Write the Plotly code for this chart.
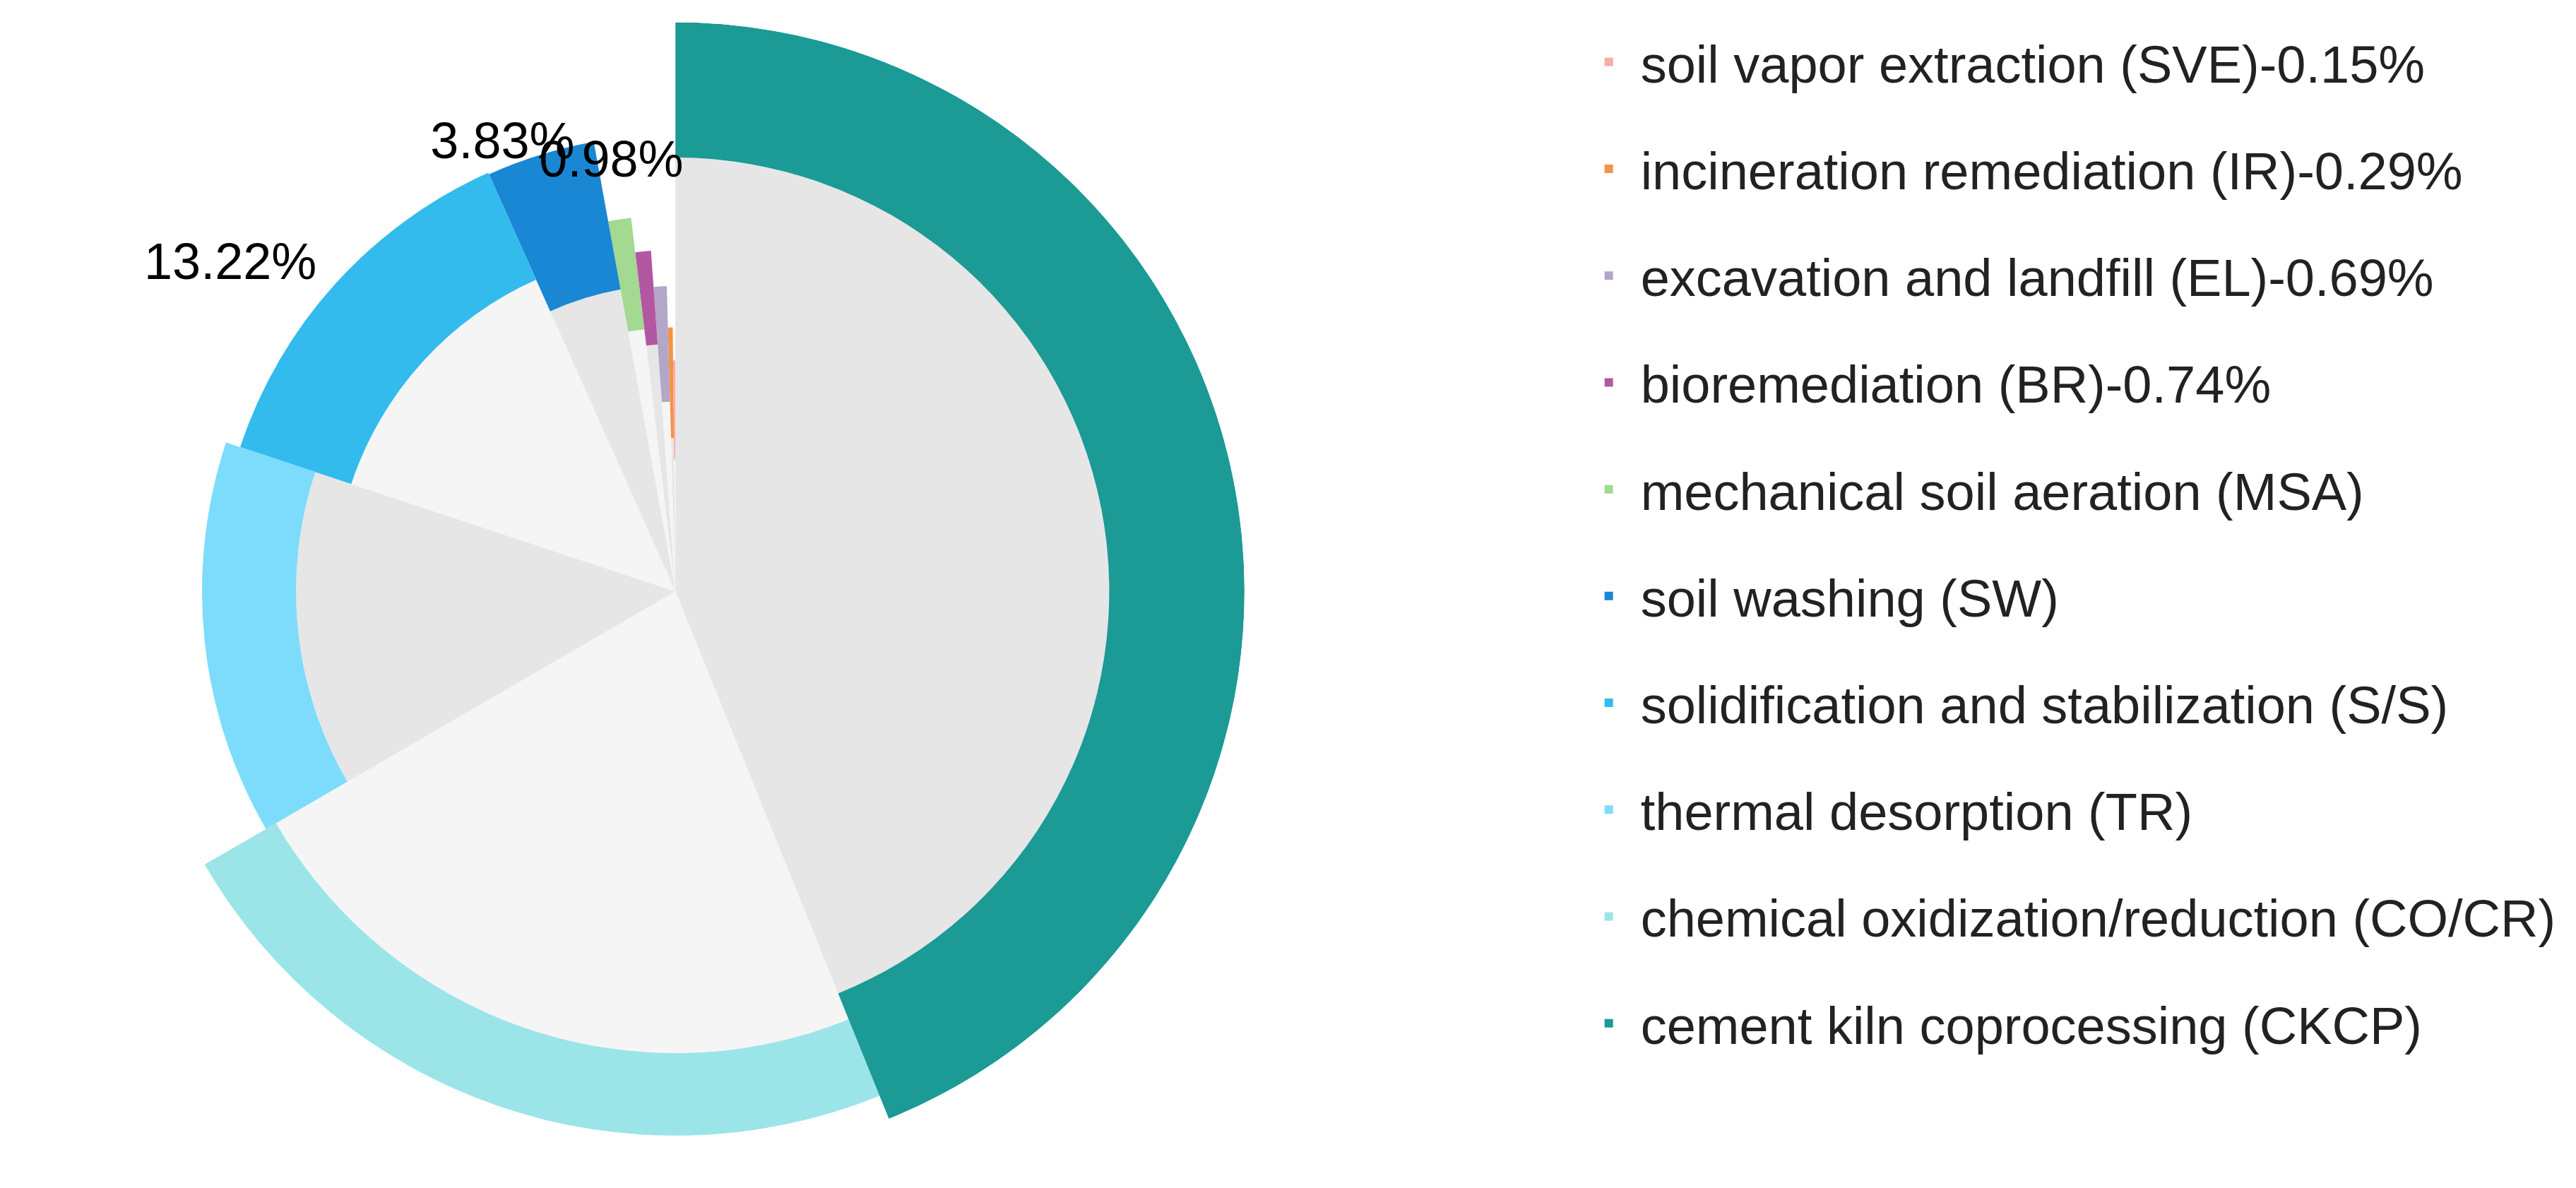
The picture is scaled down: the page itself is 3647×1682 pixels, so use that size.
import plotly.graph_objects as go
import numpy as np

names = ["cement kiln coprocessing (CKCP)", "chemical oxidization/reduction (CO/CR)",
         "thermal desorption (TR)", "solidification and stabilization (S/S)",
         "soil washing (SW)", "mechanical soil aeration (MSA)", "bioremediation (BR)-0.74%",
         "excavation and landfill (EL)-0.69%", "incineration remediation (IR)-0.29%",
         "soil vapor extraction (SVE)-0.15%"]
pct = [43.88, 22.75, 13.46, 13.22, 3.83, 0.98, 0.74, 0.69, 0.29, 0.15]
labels = ["43.88%", "22.75%", "13.46%", "13.22%", "3.83%", "0.98%", "", "", "", ""]
inner_r = [263, 280, 230, 207, 186, 160, 150, 115, 93, 80]
outer_r = [345, 330, 287, 278, 277, 228, 207, 185, 160, 140]
colors = ["#1b9a96", "#9be5e8", "#7ddcfb", "#33bbee", "#1a87d4", "#a3d990",
          "#b457a3", "#b3a6c8", "#f39442", "#ffa9a9"]
greys = ["#e6e6e6", "#f5f5f5"]
label_r = [410, 350, 362, 334, 290, 262, 0, 0, 0, 0]
label_theta_shift = [0, -6, -4, -6, -4, 0, 0, 0, 0, 0]

width = [p * 3.6 for p in pct]
theta = list(np.cumsum(width) - np.array(width) / 2)

fig = go.Figure()
fig.add_trace(go.Barpolar(r=inner_r, theta=theta, width=width,
                          marker=dict(color=[greys[i % 2] for i in range(len(pct))], line_width=0),
                          showlegend=False, hoverinfo="skip"))
for i in reversed(range(len(pct))):
    fig.add_trace(go.Barpolar(r=[outer_r[i] - inner_r[i]], base=[inner_r[i]], theta=[theta[i]],
                              width=[width[i]], name=names[i], legendgroup=str(i),
                              marker=dict(color=colors[i], line_width=0)))
idx = [i for i in range(len(pct)) if labels[i]]
fig.add_trace(go.Scatterpolar(r=[label_r[i] for i in idx],
                              theta=[theta[i] + label_theta_shift[i] for i in idx],
                              text=[labels[i] for i in idx], mode="text", cliponaxis=False,
                              textfont=dict(size=72, color="black"), showlegend=False))
fig.update_layout(
    width=3647, height=1682, paper_bgcolor="white", plot_bgcolor="white",
    margin=dict(l=0, r=0, t=0, b=0),
    font=dict(family="Liberation Sans, Arial", size=74, color="#222"),
    polar=dict(domain=dict(x=[0.039, 0.481], y=[0.028, 0.986]), bgcolor="white",
               bargap=0,
               radialaxis=dict(range=[0, 345], visible=False),
               angularaxis=dict(direction="clockwise", rotation=90, visible=False)),
    legend=dict(x=0.61, y=0.985, xanchor="left", yanchor="top", font=dict(size=74),
                itemwidth=80, tracegroupgap=52, traceorder="grouped+reversed"),
)
fig.write_html("out.html")
